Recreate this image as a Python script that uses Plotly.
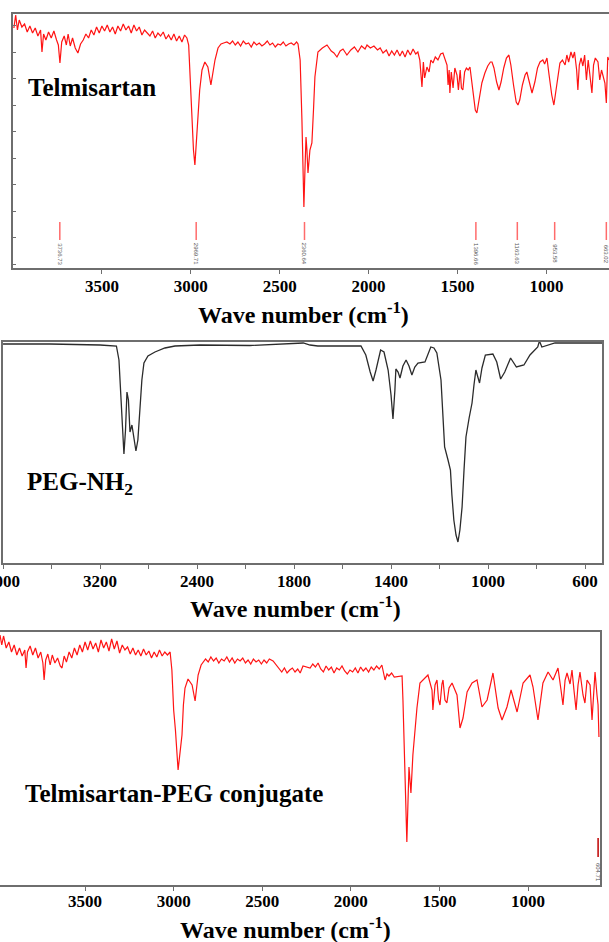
import plotly.graph_objects as go

# ---------------- DATA ----------------
# Panel 1: Telmisartan (wavenumber cm-1, transmittance a.u.)
tel_wn = [3995, 3985, 3975, 3965, 3950, 3935, 3920, 3905, 3890, 3875,
          3860, 3845, 3837, 3828, 3815, 3800, 3785, 3770, 3755, 3745,
          3736, 3726, 3712, 3700, 3690, 3678, 3665, 3650, 3635, 3620,
          3605, 3590, 3575, 3560, 3545, 3530, 3515, 3500, 3485, 3470,
          3455, 3440, 3425, 3410, 3395, 3380, 3365, 3350, 3335, 3320,
          3305, 3290, 3275, 3260, 3245, 3230, 3215, 3200, 3185, 3170,
          3155, 3140, 3125, 3110, 3095, 3080, 3065, 3050, 3035, 3022,
          3012, 3005, 2995, 2985, 2977, 2968, 2960, 2950, 2937, 2921,
          2904, 2887, 2875, 2864, 2847, 2830, 2815, 2797, 2780, 2765,
          2750, 2735, 2720, 2705, 2690, 2675, 2660, 2645, 2630, 2615,
          2600, 2585, 2570, 2555, 2540, 2525, 2510, 2495, 2480, 2465,
          2450, 2435, 2420, 2405, 2397, 2385, 2375, 2368, 2364, 2358,
          2352, 2347, 2341, 2330, 2319, 2310, 2302, 2285, 2260, 2234,
          2210, 2195, 2178, 2160, 2144, 2122, 2100, 2080, 2060, 2040,
          2020, 2009, 1990, 1970, 1950, 1935, 1919, 1900, 1885, 1870,
          1855, 1840, 1824, 1810, 1795, 1780, 1765, 1750, 1735, 1723,
          1712, 1700, 1692, 1685, 1672, 1660, 1650, 1638, 1625, 1610,
          1595, 1582, 1570, 1559, 1553, 1547, 1543, 1535, 1525, 1515,
          1503, 1495, 1485, 1478, 1470, 1460, 1450, 1440, 1430, 1420,
          1410, 1400, 1391, 1380, 1363, 1346, 1330, 1315, 1306, 1295,
          1280, 1267, 1255, 1240, 1225, 1211, 1200, 1185, 1170, 1160,
          1150, 1135, 1120, 1110, 1095, 1081, 1065, 1050, 1036, 1020,
          1010, 997, 985, 970, 958, 945, 935, 924, 910, 895,
          885, 875, 862, 851, 842, 830, 823, 815, 805, 795,
          785, 775, 765, 755, 744, 735, 725, 710, 700, 690,
          680, 671, 663, 655, 648]
tel_T = [240, 253, 238, 248, 241, 244, 236, 242, 235, 240,
         232, 238, 216, 234, 228, 236, 230, 237, 228, 223,
         205, 226, 232, 223, 234, 222, 230, 220, 215, 224,
         228, 234, 230, 238, 233, 241, 235, 242, 237, 243,
         236, 241, 234, 242, 237, 244, 238, 242, 235, 243,
         237, 241, 233, 238, 235, 232, 237, 230, 235, 232,
         236, 229, 233, 228, 234, 227, 232, 226, 233, 230,
         223, 193, 158, 118, 103, 128, 151, 178, 198, 206,
         201, 183, 196, 208, 220, 224, 225, 226, 224, 227,
         223, 226, 222, 227, 224, 225, 221, 226, 223, 225,
         222, 224, 227, 223, 225, 221, 224, 223, 226, 222,
         224, 225, 223, 226, 224, 208, 148, 83, 61, 98,
         131, 118, 95, 118, 125, 158, 191, 216, 220, 223,
         217, 215, 211, 217, 219, 213, 218, 221, 216, 222,
         219, 223, 220, 222, 218, 220, 215, 218, 212, 217,
         213, 218, 212, 217, 211, 218, 213, 219, 214, 216,
         208, 181, 206, 190, 201, 196, 208, 205, 211, 208,
         214, 215, 208, 203, 183, 198, 175, 196, 180, 200,
         193, 178, 198, 180, 178, 196, 200, 198, 201, 188,
         170, 158, 155, 168, 185, 195, 202, 206, 206, 200,
         186, 178, 186, 200, 210, 213, 203, 183, 166, 163,
         168, 183, 193, 196, 186, 175, 186, 200, 206, 208,
         204, 210, 193, 173, 163, 178, 193, 205, 208, 203,
         213, 206, 216, 210, 216, 198, 178, 203, 210, 202,
         213, 188, 208, 193, 175, 203, 210, 206, 188, 198,
         190, 185, 165, 211, 208]
tel_peaks = [3736.73, 2969.71, 2360.64, 1396.66, 1163.63, 953.58, 663.02]
tel_peak_labels = ["3736.73", "2969.71", "2360.64", "1396.66", "1163.63", "953.58", "663.02"]

# Panel 2: PEG-NH2
peg_wn = [4000, 3613, 3200, 3065, 3044, 3027, 3003, 2990, 2978, 2966,
          2953, 2937, 2920, 2904, 2888, 2871, 2855, 2838, 2805, 2747,
          2665, 2582, 2376, 1982, 1816, 1762, 1734, 1702, 1524, 1504,
          1486, 1474, 1462, 1443, 1429, 1412, 1400, 1392, 1384, 1380,
          1371, 1363, 1351, 1338, 1326, 1314, 1302, 1289, 1260, 1236,
          1223, 1211, 1194, 1179, 1165, 1155, 1149, 1141, 1132, 1124,
          1116, 1107, 1099, 1091, 1078, 1066, 1058, 1050, 1042, 1035,
          1025, 1011, 980, 964, 948, 931, 907, 883, 852, 827,
          795, 788, 778, 724, 642, 530]
peg_T = [219, 219, 218, 217, 203, 163, 109, 133, 171, 163,
         131, 138, 123, 112, 123, 153, 183, 200, 207, 211,
         215, 217, 218, 217.5, 219, 220, 218, 217, 217, 208,
         191, 182, 193, 213, 211, 193, 168, 144, 173, 194,
         191, 185, 197, 203, 197, 188, 196, 200, 201, 216,
         215, 210, 183, 116, 103, 93, 68, 43, 28, 21,
         33, 56, 93, 126, 145, 160, 178, 193, 186, 180,
         195, 208, 209, 201, 184, 191, 205, 196, 198, 208,
         216, 222, 216, 220, 220, 220]
peg_tick_wn = [4000, 3600, 3200, 2800, 2400, 2000, 1800, 1600, 1400, 1200, 1000, 800, 600]
peg_tick_labels = ["4000", "", "3200", "", "2400", "", "1800", "", "1400", "", "1000", "", "600"]

# Panel 3: Telmisartan-PEG conjugate
con_wn = [3980, 3970, 3960, 3945, 3930, 3915, 3900, 3885, 3870, 3855,
          3840, 3833, 3825, 3810, 3795, 3780, 3765, 3750, 3738, 3731,
          3722, 3710, 3697, 3685, 3670, 3655, 3640, 3630, 3618, 3605,
          3590, 3575, 3560, 3545, 3530, 3515, 3500, 3485, 3470, 3455,
          3440, 3425, 3410, 3395, 3380, 3365, 3350, 3335, 3320, 3305,
          3290, 3275, 3260, 3245, 3230, 3215, 3200, 3185, 3170, 3155,
          3140, 3125, 3110, 3095, 3080, 3065, 3050, 3035, 3020, 3010,
          3000, 2990, 2975, 2965, 2953, 2945, 2936, 2919, 2905, 2896,
          2879, 2870, 2862, 2845, 2834, 2820, 2805, 2790, 2775, 2760,
          2745, 2730, 2715, 2700, 2685, 2670, 2655, 2640, 2625, 2610,
          2595, 2580, 2565, 2550, 2535, 2520, 2505, 2490, 2475, 2460,
          2439, 2416, 2405, 2390, 2375, 2360, 2345, 2330, 2315, 2300,
          2286, 2270, 2230, 2215, 2200, 2185, 2170, 2155, 2140, 2125,
          2110, 2095, 2080, 2065, 2050, 2035, 2020, 2005, 1990, 1975,
          1960, 1945, 1930, 1915, 1900, 1885, 1870, 1855, 1840, 1825,
          1807, 1796, 1785, 1770, 1755, 1711, 1706, 1695, 1684, 1672,
          1661, 1650, 1627, 1610, 1582, 1565, 1542, 1537, 1525, 1514,
          1505, 1497, 1486, 1480, 1469, 1458, 1446, 1429, 1401, 1384,
          1367, 1344, 1316, 1288, 1260, 1231, 1198, 1169, 1147, 1119,
          1096, 1062, 1028, 989, 972, 944, 916, 887, 859, 831,
          814, 803, 791, 780, 763, 752, 741, 729, 718, 707,
          690, 679, 667, 650, 639, 628, 622, 611, 605, 600]
con_T = [250, 240, 249, 237, 243, 233, 240, 230, 237, 229,
         235, 217, 233, 239, 230, 237, 227, 233, 222, 205,
         225, 231, 220, 230, 222, 227, 219, 217, 229, 223,
         233, 227, 237, 230, 240, 233, 243, 235, 244, 236,
         242, 233, 245, 237, 243, 234, 246, 236, 244, 232,
         240, 235, 238, 231, 237, 230, 235, 229, 236, 230,
         234, 227, 233, 228, 235, 229, 233, 230, 233, 215,
         175, 155, 115, 130, 150, 180, 197, 206, 202, 200,
         184, 197, 210, 220, 223, 226, 223, 228, 224, 227,
         222, 226, 224, 228, 223, 227, 222, 226, 224, 227,
         222, 225, 221, 226, 223, 225, 221, 225, 222, 226,
         224, 219, 216, 213, 217, 212, 215, 217, 213, 216,
         212, 219, 217, 221, 218, 222, 216, 213, 219, 215,
         218, 212, 217, 215, 219, 214, 211, 215, 213, 217,
         212, 218, 214, 217, 213, 218, 215, 219, 216, 220,
         205, 211, 209, 212, 208, 209, 185, 115, 43, 118,
         92, 130, 177, 202, 207, 210, 195, 175, 200, 205,
         185, 180, 201, 205, 185, 182, 197, 202, 190, 157,
         167, 193, 202, 205, 178, 185, 212, 177, 165, 178,
         195, 173, 202, 210, 198, 165, 202, 213, 205, 217,
         195, 180, 205, 212, 201, 215, 195, 175, 200, 213,
         190, 182, 205, 200, 165, 205, 213, 190, 180, 148]
con_peaks = [604.71]
con_peak_labels = ["604.71"]

ticks_main = [3500, 3000, 2500, 2000, 1500, 1000]

# ---------------- LAYOUT HELPERS ----------------
W, H = 609, 942
def xdom(a, b):
    return [a / W, min(b / W, 1.0)]
def ydom(top, bottom):
    return [1 - bottom / H, 1 - top / H]
def ypap(py):
    return 1 - py / H

def peg_u(w):
    return (4000 - w) / 400 if w >= 2000 else 5 + (2000 - w) / 200

RED = "#ff1414"
FRAME = "#6e6e6e"
SERIF = "Liberation Serif"
tickfont = dict(family=SERIF, size=17, color="black", weight="bold")

fig = go.Figure()

# Panel 1
fig.add_trace(go.Scatter(x=tel_wn, y=tel_T, mode="lines",
                         line=dict(color=RED, width=1.2), xaxis="x", yaxis="y"))
mx, my = [], []
for p in tel_peaks:
    mx += [p, p, None]
    my += [46, 28, None]
fig.add_trace(go.Scatter(x=mx, y=my, mode="lines",
                         line=dict(color="#ff6b6b", width=1.5), xaxis="x", yaxis="y"))

# Panel 2
fig.add_trace(go.Scatter(x=[peg_u(w) for w in peg_wn], y=peg_T, mode="lines",
                         line=dict(color="#2b2b2b", width=1.3), xaxis="x2", yaxis="y2"))

# Panel 3
fig.add_trace(go.Scatter(x=con_wn, y=con_T, mode="lines",
                         line=dict(color=RED, width=1.2), xaxis="x3", yaxis="y3"))
cx, cy = [], []
for p in con_peaks:
    cx += [p, p, None]
    cy += [47, 28, None]
fig.add_trace(go.Scatter(x=cx, y=cy, mode="lines",
                         line=dict(color="#c00000", width=1.5), xaxis="x3", yaxis="y3"))

annotations = []
for p, lab in zip(tel_peaks, tel_peak_labels):
    annotations.append(dict(x=p, y=14, xref="x", yref="y", text=lab, showarrow=False,
                            textangle=90, font=dict(family="Arial", size=6, color="#555")))
for p, lab in zip(con_peaks, con_peak_labels):
    annotations.append(dict(x=p, y=13, xref="x3", yref="y3", text=lab, showarrow=False,
                            textangle=90, font=dict(family="Arial", size=6, color="#555")))

title_font = dict(family=SERIF, size=24, color="black", weight="bold")
label_font = dict(family=SERIF, size=25, color="black", weight="bold")
annotations += [
    dict(x=303 / W, y=ypap(313), xref="paper", yref="paper", showarrow=False,
         text="Wave number (cm<sup>-1</sup>)", font=title_font, xanchor="center", yanchor="middle"),
    dict(x=295 / W, y=ypap(607), xref="paper", yref="paper", showarrow=False,
         text="Wave number (cm<sup>-1</sup>)", font=title_font, xanchor="center", yanchor="middle"),
    dict(x=285 / W, y=ypap(928), xref="paper", yref="paper", showarrow=False,
         text="Wave number (cm<sup>-1</sup>)", font=title_font, xanchor="center", yanchor="middle"),
    dict(x=26 / W, y=ypap(88), xref="paper", yref="paper", showarrow=False,
         text="Telmisartan", font=label_font, xanchor="left", yanchor="middle"),
    dict(x=25 / W, y=ypap(483), xref="paper", yref="paper", showarrow=False,
         text="PEG-NH<sub>2</sub>", font=label_font, xanchor="left", yanchor="middle"),
    dict(x=23 / W, y=ypap(793), xref="paper", yref="paper", showarrow=False,
         text="Telmisartan-PEG conjugate", font=label_font, xanchor="left", yanchor="middle"),
]

axis_common = dict(showgrid=False, zeroline=False, linecolor=FRAME, linewidth=1.5,
                   automargin=False, ticklabeloverflow="allow")

fig.update_layout(
    width=W, height=H, margin=dict(l=0, r=0, t=0, b=0, autoexpand=False),
    paper_bgcolor="white", plot_bgcolor="white", showlegend=False,
    annotations=annotations,
    xaxis=dict(domain=xdom(13, 609), range=[4000, 648], anchor="y",
               tickvals=ticks_main, ticks="outside", ticklen=4, tickcolor=FRAME,
               tickfont=tickfont, showline=True, mirror=True, ticklabelstandoff=-2,
               **axis_common),
    yaxis=dict(domain=ydom(14, 268), range=[0, 254], anchor="x",
               showline=True, mirror=False, ticks="inside", ticklen=3, tickcolor=FRAME,
               tick0=4, dtick=26.5, showticklabels=False, **axis_common),
    xaxis2=dict(domain=xdom(3, 602), range=[-0.001, peg_u(530)], anchor="y2",
                tickvals=[peg_u(w) for w in peg_tick_wn], ticktext=peg_tick_labels,
                ticks="outside", ticklen=4, tickcolor=FRAME, tickfont=tickfont,
                showline=True, mirror=True, ticklabelstandoff=-2, **axis_common),
    yaxis2=dict(domain=ydom(342, 563), range=[0, 221], anchor="x2",
                showline=True, mirror=True, showticklabels=False, ticks="", **axis_common),
    xaxis3=dict(domain=xdom(0, 600), range=[3980, 594], anchor="y3",
                tickvals=ticks_main, ticks="outside", ticklen=4, tickcolor=FRAME,
                tickfont=tickfont, showline=True, mirror=True, ticklabelstandoff=-4,
                **axis_common),
    yaxis3=dict(domain=ydom(632, 885), range=[0, 253], anchor="x3", side="right",
                showline=True, mirror=False, showticklabels=False, ticks="", **axis_common),
)

fig.write_html("out.html", config={"displayModeBar": False},
               post_script="document.body.style.margin='0';document.body.style.overflow='hidden';")
